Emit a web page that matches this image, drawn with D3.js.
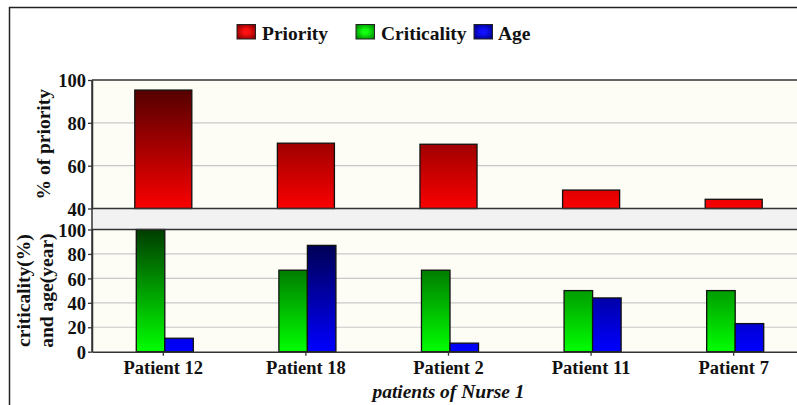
<!DOCTYPE html>
<html>
<head>
<meta charset="utf-8">
<script src="https://cdn.jsdelivr.net/npm/d3@7"></script>
<style>
  html, body { margin: 0; padding: 0; background: #ffffff; }
  svg { display: block; }
  text { font-family: "Liberation Serif", "Times New Roman", serif; font-weight: bold; fill: #111; }
</style>
</head>
<body>
<svg id="chart" width="797" height="405"></svg>
<script>
// Patients and their measured values
const patients = ["Patient 12", "Patient 18", "Patient 2", "Patient 11", "Patient 7"];
const priority = [95.3, 70.5, 70, 48.6, 44.3];
const criticality = [100, 66.7, 66.7, 50, 50];
const age = [11, 87, 7, 44, 23];

const priorityTicks = [40, 60, 80, 100];
const lowerTicks = [0, 20, 40, 60, 80, 100];
const seriesNames = ["Priority", "Criticality", "Age"];

const svg = d3.select("#chart");
const defs = svg.append("defs");

// Layout of the two stacked panels
const left = 92, right = 805;
const topPanel = { top: 80, bottom: 208.5 };
const lowPanel = { top: 229.5, bottom: 351.7 };

const x = d3.scaleBand().domain(patients).range([left, right])
  .paddingInner(0.6).paddingOuter(0.3);
const xSub = d3.scaleBand().domain(["Criticality", "Age"]).range([0, x.bandwidth()]);

const yTop = d3.scaleLinear().domain([40, 100]).range([topPanel.bottom, topPanel.top]);
const yLow = d3.scaleLinear().domain([0, 100]).range([lowPanel.bottom, lowPanel.top]);

// Vertical gradients laid out across each panel's full height
function linGrad(id, y1, y2, c1, c2) {
  const g = defs.append("linearGradient").attr("id", id)
    .attr("gradientUnits", "userSpaceOnUse")
    .attr("x1", 0).attr("x2", 0).attr("y1", y1).attr("y2", y2);
  g.append("stop").attr("offset", 0).attr("stop-color", c1);
  g.append("stop").attr("offset", 1).attr("stop-color", c2);
}
linGrad("gPriority", topPanel.top, topPanel.bottom, "#470000", "#fa0000");
linGrad("gCriticality", lowPanel.top, lowPanel.bottom, "#003c00", "#00ff00");
linGrad("gAge", lowPanel.top, lowPanel.bottom, "#00003c", "#0000ff");

function radGrad(id, inner, outer) {
  const g = defs.append("radialGradient").attr("id", id).attr("r", 0.6);
  g.append("stop").attr("offset", 0.25).attr("stop-color", inner);
  g.append("stop").attr("offset", 1).attr("stop-color", outer);
}
radGrad("lPriority", "#ff1010", "#8a0000");
radGrad("lCriticality", "#10ff10", "#008a00");
radGrad("lAge", "#1010ff", "#00008a");

// Outer frame
svg.append("rect").attr("x", 9.5).attr("y", 7.5).attr("width", 820).attr("height", 420)
  .attr("fill", "none").attr("stroke", "#222").attr("stroke-width", 1.5);

// Panel backgrounds and the break between them
svg.append("rect").attr("x", left).attr("y", topPanel.top)
  .attr("width", right - left).attr("height", topPanel.bottom - topPanel.top).attr("fill", "#fdfdf5");
svg.append("rect").attr("x", left).attr("y", topPanel.bottom)
  .attr("width", right - left).attr("height", lowPanel.top - topPanel.bottom).attr("fill", "#f2f2f2");
svg.append("rect").attr("x", left).attr("y", lowPanel.top)
  .attr("width", right - left).attr("height", lowPanel.bottom - lowPanel.top).attr("fill", "#fdfdf5");

// Gridlines
svg.append("g").selectAll("line").data(priorityTicks.filter(t => t > 40 && t < 100)).join("line")
  .attr("x1", left).attr("x2", right).attr("y1", d => yTop(d)).attr("y2", d => yTop(d))
  .attr("stroke", "#c8c8c8").attr("stroke-width", 1.2);
svg.append("g").selectAll("line").data(lowerTicks.filter(t => t > 0 && t < 100)).join("line")
  .attr("x1", left).attr("x2", right).attr("y1", d => yLow(d)).attr("y2", d => yLow(d))
  .attr("stroke", "#c8c8c8").attr("stroke-width", 1.2);

// Priority bars
svg.append("g").selectAll("rect").data(patients).join("rect")
  .attr("x", d => x(d))
  .attr("y", (d, i) => yTop(priority[i]))
  .attr("width", x.bandwidth())
  .attr("height", (d, i) => yTop(40) - yTop(priority[i]))
  .attr("fill", "url(#gPriority)")
  .attr("stroke", "#111").attr("stroke-width", 1.3);

// Criticality and age bars
const lowSeries = [
  { name: "Criticality", values: criticality, fill: "url(#gCriticality)" },
  { name: "Age", values: age, fill: "url(#gAge)" }
];
lowSeries.forEach(s => {
  svg.append("g").selectAll("rect").data(patients).join("rect")
    .attr("x", d => x(d) + xSub(s.name) + 1.5)
    .attr("y", (d, i) => yLow(s.values[i]))
    .attr("width", xSub.bandwidth())
    .attr("height", (d, i) => yLow(0) - yLow(s.values[i]))
    .attr("fill", s.fill)
    .attr("stroke", "#111").attr("stroke-width", 1.3);
});

// Panel edges
const edge = "#333";
[topPanel.top, topPanel.bottom, lowPanel.top].forEach(yv => {
  svg.append("line").attr("x1", left).attr("x2", right).attr("y1", yv).attr("y2", yv)
    .attr("stroke", edge).attr("stroke-width", 1.5);
});

// Axes
const axisFont = g => g.selectAll("text")
  .style("font-family", '"Liberation Serif", "Times New Roman", serif')
  .style("font-weight", "bold").style("font-size", "18.5px").attr("fill", "#111");

const yAxisTop = svg.append("g").attr("transform", `translate(${left},0)`)
  .call(d3.axisLeft(yTop).tickValues(priorityTicks).tickSize(4).tickPadding(2).tickSizeOuter(0));
const yAxisLow = svg.append("g").attr("transform", `translate(${left},0)`)
  .call(d3.axisLeft(yLow).tickValues(lowerTicks).tickSize(4).tickPadding(2).tickSizeOuter(0));
const xAxis = svg.append("g").attr("transform", `translate(0,${lowPanel.bottom})`)
  .call(d3.axisBottom(x).tickSize(4).tickPadding(3).tickSizeOuter(0));

[yAxisTop, yAxisLow, xAxis].forEach(g => {
  g.call(axisFont);
  g.select(".domain").attr("stroke", edge).attr("stroke-width", 1.5);
  g.selectAll(".tick line").attr("stroke", edge).attr("stroke-width", 1.3);
});
yAxisTop.selectAll("text").attr("dy", "0.36em");
yAxisLow.selectAll("text").attr("dy", "0.36em");
xAxis.selectAll("text").attr("dy", "0.85em");
// Keep the two y axes joined across the break
svg.append("line").attr("x1", left).attr("x2", left).attr("y1", topPanel.top).attr("y2", lowPanel.bottom)
  .attr("stroke", edge).attr("stroke-width", 1.5);

// Axis titles
svg.append("text").attr("transform", `translate(50,${(topPanel.top + topPanel.bottom) / 2}) rotate(-90)`)
  .attr("text-anchor", "middle").style("font-size", "19.5px").text("% of priority");
const lowMid = (lowPanel.top + lowPanel.bottom) / 2;
svg.append("text").attr("transform", `translate(30,${lowMid}) rotate(-90)`)
  .attr("text-anchor", "middle").style("font-size", "19.5px").text("criticality(%)");
svg.append("text").attr("transform", `translate(53,${lowMid}) rotate(-90)`)
  .attr("text-anchor", "middle").style("font-size", "19.5px").text("and age(year)");
svg.append("text").attr("x", x("Patient 2") + x.bandwidth() / 2).attr("y", 398)
  .attr("text-anchor", "middle").style("font-size", "19.5px").style("font-style", "italic")
  .text("patients of Nurse 1");

// Legend
const legendItems = [
  { name: seriesNames[0], fill: "url(#lPriority)", sx: 237, tx: 262 },
  { name: seriesNames[1], fill: "url(#lCriticality)", sx: 356, tx: 381 },
  { name: seriesNames[2], fill: "url(#lAge)", sx: 474, tx: 498 }
];
const legend = svg.append("g");
legendItems.forEach(it => {
  legend.append("rect").attr("x", it.sx).attr("y", 24.5).attr("width", 18.5).attr("height", 14.5)
    .attr("fill", it.fill).attr("stroke", "#222").attr("stroke-width", 1);
  legend.append("text").attr("x", it.tx).attr("y", 39.5).style("font-size", "19.5px").text(it.name);
});
</script>
</body>
</html>
